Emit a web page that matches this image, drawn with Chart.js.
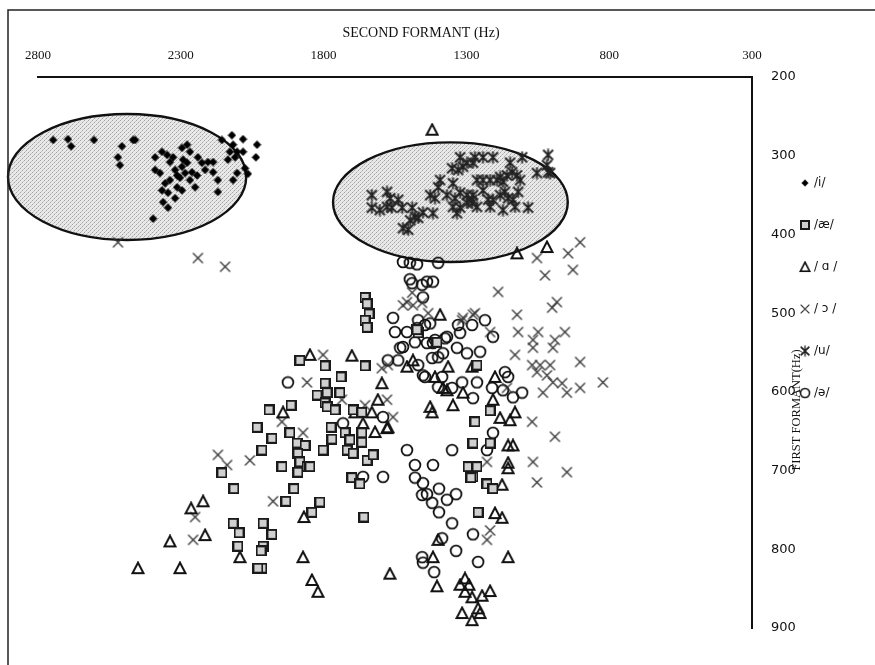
<!DOCTYPE html>
<html>
<head>
<meta charset="utf-8">
<script src="https://cdn.jsdelivr.net/npm/chart.js@4.4.1/dist/chart.umd.min.js"></script>
<style>
  html, body { margin: 0; padding: 0; background: #ffffff; }
  #wrap { width: 875px; height: 665px; position: relative; }
</style>
</head>
<body>
<div id="wrap"><canvas id="formants" width="875" height="665"></canvas></div>
<script>
// Axis ranges and ticks (Hz)
const f2Range = [300, 2800];
const f2Step = 500;
const f1Range = [200, 900];
const f1Step = 100;

// Vowel labels, in legend order
const vowelLabels = ['/i/', '/æ/', '/ ɑ /', '/ ɔ /', '/u/', '/ə/'];

// /i/ tokens
const iF2 = [2747,2695,2684,2604,2506,2520,2513,2467,2460,2390,2366,2348,2390,2373,2327,2296,2278,2268,2338,2320,2296,2285,2303,2338,2355,2366,2313,2345,2320,2296,2268,2250,2240,2226,2205,2187,2187,2170,2170,2362,2345,2397,2156,2121,2082,2033,2117,2128,2103,2082,2135,2110,2037,2075,2065,2103,2117,2261,2243,2278,2313,2292,2215];
const iF1 = [280,279,288,280,288,302,312,280,280,302,295,299,318,322,302,290,286,295,308,318,314,322,328,331,335,344,340,347,354,344,331,340,302,309,308,308,321,331,346,359,366,380,280,274,279,286,286,295,295,295,305,302,302,316,323,322,331,321,325,309,325,305,318];

// /æ/ tokens
const aeF2 = [1655,1648,1641,1655,1648,1883,1795,1655,1739,1795,1823,1788,1795,1788,1743,1760,1991,1914,2033,1918,1981,2016,1946,1774,1771,1802,1893,1865,1890,1883,1858,1890,1725,1708,1718,1697,1666,1666,1648,1627,1697,1666,1270,1277,1294,1263,1277,2156,1469,1403,1848,2114,1904,1932,1813,1841,1701,1673,1659,2117,2012,2096,1981,2100,2012,2019,2016,2030,1217,1284,1228,1207,1259,1263,1217,1473];
const aeF1 = [480,488,501,509,518,560,567,567,581,589,604,601,614,619,601,623,623,617,645,652,659,674,695,645,660,674,665,668,678,689,695,702,652,661,674,678,652,664,687,680,623,626,638,665,695,695,708,703,525,537,695,723,723,739,740,753,709,717,759,767,767,779,781,796,796,802,824,824,665,709,717,723,753,566,624,521];

// /ɑ/ tokens
const ahF2 = [1420,1123,1018,1392,1848,1701,1596,1508,1487,1410,1364,1280,1312,1942,1610,1631,1690,1662,1620,1578,1427,1420,1347,1368,1382,1200,1207,1182,1130,1147,1575,1154,1137,1154,1154,1175,1200,1175,1399,1417,1154,1568,1403,1305,1322,1291,1305,1280,1245,1217,1315,1259,1252,1280,2222,2264,2215,2338,1869,2093,1872,2450,2303,1841,1820];
const ahF1 = [267,424,416,502,553,554,589,568,560,581,568,568,601,626,610,626,626,640,651,646,619,626,617,598,595,581,610,633,626,636,645,668,668,690,697,718,754,760,788,810,810,831,847,837,845,845,854,861,859,853,881,875,881,890,739,748,782,790,759,810,810,824,824,839,854];

// /ɔ/ tokens
const awF2 = [2520,2240,2145,902,944,1053,927,1025,1189,983,1000,1123,1119,1049,955,1067,990,1067,997,1130,1070,1042,1007,902,1053,1018,997,965,902,822,1032,948,1070,990,1508,1522,1487,1315,1277,1217,1158,1490,1455,1434,1312,1270,1802,1858,1596,1575,1736,1578,1655,1557,1946,1872,2058,2170,2138,1977,2250,2257,1067,948,1053,1228,1217,1228];
const awF1 = [410,430,441,410,424,430,445,452,473,486,493,502,524,524,524,534,534,544,544,553,566,566,566,562,575,579,588,589,595,588,601,601,638,657,486,490,490,509,502,524,595,474,487,500,506,500,553,588,570,566,610,610,617,632,638,652,687,680,693,739,759,788,689,702,715,689,776,788];

// /u/ tokens
const uF2 = [1322,1270,1242,1207,1298,1312,1329,1350,1277,1147,1105,1014,1018,1014,1007,1053,1140,1123,1158,1112,1392,1399,1263,1242,1217,1193,1182,1172,1347,1242,1322,1298,1277,1280,1427,1410,1368,1340,1347,1322,1333,1298,1280,1263,1224,1207,1217,1182,1165,1154,1137,1119,1130,1172,1084,1631,1578,1567,1539,1631,1603,1578,1561,1525,1490,1452,1417,1480,1497,1469,1504,1522];
const uF1 = [302,302,302,302,309,314,318,316,309,309,302,299,312,321,322,322,321,325,325,331,331,340,331,331,331,331,327,333,335,344,347,350,350,356,350,354,350,354,365,366,373,360,360,365,356,356,365,350,346,354,356,346,365,369,366,350,346,354,356,366,369,365,366,366,366,372,373,378,382,379,394,392];

// /ə/ tokens
const schwaF2 = [1522,1498,1473,1399,1498,1490,1455,1438,1417,1452,1235,1280,1329,1469,1445,1473,1508,1427,1368,1207,1480,1438,1410,1333,1298,1252,1382,1420,1469,1452,1385,1315,1263,1399,1350,1277,1165,1154,1210,1172,1105,1137,1207,1522,1557,1550,1532,1575,1539,1445,1925,1732,1592,1508,1350,1480,1417,1592,1322,1417,1375,1399,1662,1228,1480,1452,1455,1438,1396,1336,1368,1420,1396,1350,1277,1385,1336,1455,1452,1259,1413];
const schwaF1 = [435,436,438,436,457,462,464,460,460,480,509,515,515,509,515,519,524,513,530,530,537,538,534,544,551,549,551,557,566,579,581,588,588,594,595,608,575,581,595,598,601,607,652,543,506,524,544,560,560,581,588,640,632,674,674,693,693,708,525,538,532,556,708,674,709,716,731,730,723,730,737,741,753,767,781,786,802,810,817,816,829];

// Grouping ellipses round the /i/ and /u/ clusters (centre and semi-axes, Hz)
const ellipseF2 = [2488, 1356];
const ellipseF1 = [327, 359];
const ellipseSpanF2 = [417, 411];
const ellipseSpanF1 = [80, 76];

// ---------- marker glyphs ----------
function glyph(size, paint) {
  const c = document.createElement('canvas');
  c.width = size; c.height = size;
  const g = c.getContext('2d');
  paint(g, size, size / 2);
  return c;
}
const diamondMark = glyph(9, (g, s, m) => {
  g.fillStyle = '#000';
  g.beginPath(); g.moveTo(m, 0.3); g.lineTo(s - 0.3, m); g.lineTo(m, s - 0.3); g.lineTo(0.3, m); g.closePath(); g.fill();
});
const squareMark = glyph(11, (g, s) => {
  g.fillStyle = '#bcbcbc'; g.fillRect(1, 1, s - 2, s - 2);
  g.fillStyle = '#e4e4e4';
  for (let r = 2; r < s - 2; r++) for (let q = 2; q < s - 2; q++) if ((r + q) % 2 === 0) g.fillRect(q, r, 1, 1);
  g.strokeStyle = '#1a1a1a'; g.lineWidth = 2; g.strokeRect(1, 1, s - 2, s - 2);
});
const triangleMark = glyph(14, (g, s, m) => {
  g.strokeStyle = '#111'; g.lineWidth = 2; g.lineJoin = 'miter';
  g.beginPath(); g.moveTo(m, 1.5); g.lineTo(s - 1.5, s - 2); g.lineTo(1.5, s - 2); g.closePath(); g.stroke();
});
const crossMark = glyph(13, (g, s) => {
  g.strokeStyle = '#333'; g.lineWidth = 1.3;
  g.beginPath(); g.moveTo(1.5, 1.5); g.lineTo(s - 1.5, s - 1.5); g.moveTo(s - 1.5, 1.5); g.lineTo(1.5, s - 1.5); g.stroke();
});
const asteriskMark = glyph(13, (g, s, m) => {
  g.strokeStyle = '#222'; g.lineWidth = 1.8;
  g.beginPath(); g.moveTo(1.5, 1.5); g.lineTo(s - 1.5, s - 1.5); g.moveTo(s - 1.5, 1.5); g.lineTo(1.5, s - 1.5);
  g.moveTo(m, 0.5); g.lineTo(m, s - 0.5); g.stroke();
});
const circleMark = glyph(14, (g, s, m) => {
  g.strokeStyle = '#111'; g.lineWidth = 1.8;
  g.beginPath(); g.arc(m, m, 5.4, 0, Math.PI * 2); g.stroke();
});

// stippled grey fill for the ellipses
const stipple = (() => {
  const c = document.createElement('canvas'); c.width = 4; c.height = 4;
  const g = c.getContext('2d');
  g.fillStyle = '#e9e9e9'; g.fillRect(0, 0, 4, 4);
  g.fillStyle = '#a4a4a4'; g.fillRect(0, 0, 1, 1); g.fillRect(2, 2, 1, 1);
  g.fillStyle = '#c6c6c6'; g.fillRect(1, 3, 1, 1); g.fillRect(3, 1, 1, 1);
  return c;
})();

function pairs(f2, f1) { return f2.map((v, k) => ({ x: v, y: f1[k] })); }

const series = [
  [iF2, iF1, diamondMark],
  [aeF2, aeF1, squareMark],
  [ahF2, ahF1, triangleMark],
  [awF2, awF1, crossMark],
  [uF2, uF1, asteriskMark],
  [schwaF2, schwaF1, circleMark]
];

const datasets = series.map(([f2, f1, mark], k) => ({
  label: vowelLabels[k],
  data: pairs(f2, f1),
  pointStyle: mark,
  pointRadius: 6,
  showLine: false
}));

const serif = "'Liberation Serif', 'DejaVu Serif', serif";
const sans = "'DejaVu Sans', 'Liberation Sans', sans-serif";

const decor = {
  id: 'decor',
  beforeDatasetsDraw(chart) {
    const { ctx, scales: { x, y } } = chart;
    ctx.save();
    const pat = ctx.createPattern(stipple, 'repeat');
    for (let k = 0; k < ellipseF2.length; k++) {
      const cx = x.getPixelForValue(ellipseF2[k]);
      const cy = y.getPixelForValue(ellipseF1[k]);
      const rx = Math.abs(x.getPixelForValue(ellipseF2[k] - ellipseSpanF2[k]) - cx);
      const ry = Math.abs(y.getPixelForValue(ellipseF1[k] + ellipseSpanF1[k]) - cy);
      ctx.beginPath();
      ctx.ellipse(cx, cy, rx, ry, 0, 0, Math.PI * 2);
      ctx.fillStyle = pat; ctx.fill();
      ctx.lineWidth = 2.4; ctx.strokeStyle = '#111'; ctx.stroke();
    }
    ctx.restore();
  },
  afterDraw(chart) {
    const { ctx, chartArea: a } = chart;
    ctx.save();
    // outer frame
    ctx.strokeStyle = '#222'; ctx.lineWidth = 1.5;
    ctx.beginPath(); ctx.moveTo(8, 665); ctx.lineTo(8, 10); ctx.lineTo(875, 10); ctx.stroke();

    // axis captions
    ctx.fillStyle = '#111';
    ctx.font = '14px ' + serif;
    ctx.textAlign = 'center'; ctx.textBaseline = 'middle';
    ctx.fillText('SECOND FORMANT (Hz)', a.left + 383, 33);
    ctx.save();
    ctx.translate(a.right + 45, 410);
    ctx.rotate(-Math.PI / 2);
    ctx.font = '12.5px ' + serif;
    ctx.fillText('FIRST FORMANT(Hz)', 0, 0);
    ctx.restore();

    // legend
    ctx.font = '12px ' + sans;
    ctx.textAlign = 'left';
    chart.data.datasets.forEach((ds, k) => {
      const ly = a.top + 106 + k * 42;
      const img = ds.pointStyle;
      const s = img.width * 0.85;
      ctx.drawImage(img, a.right + 53 - s / 2, ly - s / 2, s, s);
      ctx.fillText(ds.label, a.right + 62, ly);
    });
    ctx.restore();
  }
};

new Chart(document.getElementById('formants'), {
  type: 'scatter',
  data: { datasets },
  plugins: [decor],
  options: {
    responsive: false,
    animation: false,
    layout: { padding: { left: 38, top: 0, right: 0, bottom: 37 } },
    plugins: { legend: { display: false }, tooltip: { enabled: false } },
    scales: {
      x: {
        type: 'linear', position: 'top', reverse: true,
        min: f2Range[0], max: f2Range[1],
        afterFit(s) { s.height = 77; },
        ticks: { stepSize: f2Step, autoSkip: false, maxRotation: 0, padding: 14, color: '#111',
                 font: { family: serif, size: 13 }, callback: v => String(v) },
        grid: { display: false, drawTicks: false },
        border: { display: true, color: '#111', width: 2 }
      },
      y: {
        type: 'linear', position: 'right', reverse: true,
        min: f1Range[0], max: f1Range[1],
        afterFit(s) { s.width = 123; },
        ticks: { stepSize: f1Step, padding: 19, color: '#111',
                 font: { family: sans, size: 13 }, callback: v => String(v) },
        grid: { display: false, drawTicks: false },
        border: { display: true, color: '#111', width: 2 }
      }
    }
  }
});
</script>
</body>
</html>
